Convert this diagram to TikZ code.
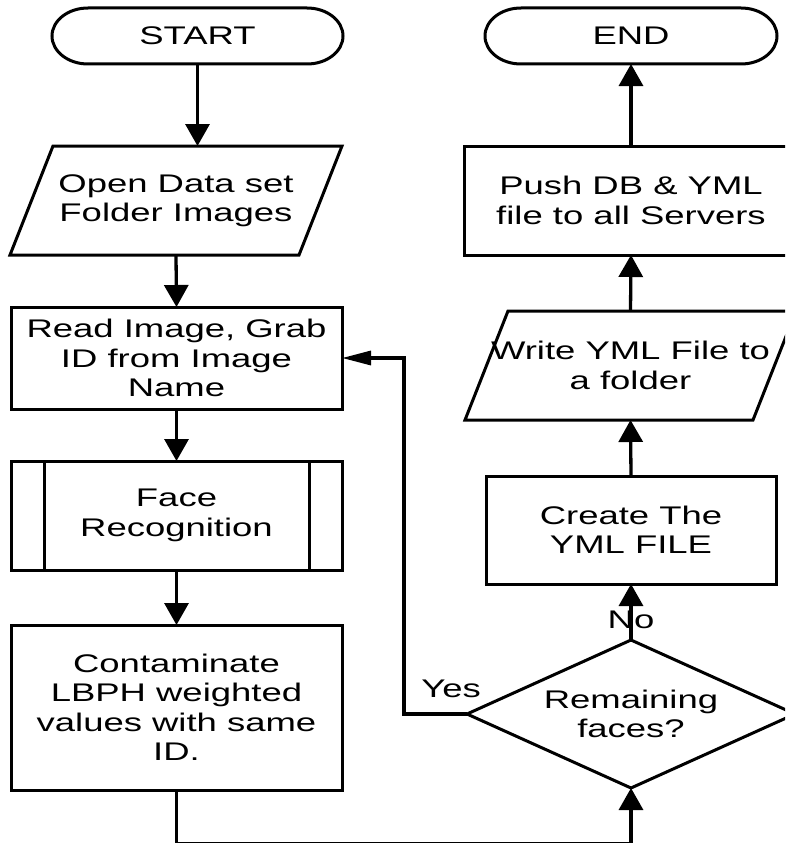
\documentclass[tikz,border=0pt]{standalone}
\usepackage{fontspec}
\setmainfont{Liberation Sans}[FakeStretch=1.43]
\usetikzlibrary{arrows.meta,calc}
\begin{document}
\begin{tikzpicture}[x=1pt,y=-1pt,
  every node/.style={inner sep=0pt,outer sep=0pt},
  txt/.style={align=center,font=\fontsize{25.5pt}{29.5pt}\selectfont},
  boxnode/.style={txt,draw,line width=3pt},
  plain/.style={txt},
  lbl/.style={font=\fontsize{25.5pt}{29.5pt}\selectfont},
  shp/.style={line width=3pt,line join=miter},
  arrv/.style={line width=3.3pt,-{Triangle[width=24pt,length=22pt]}},
  arrh/.style={line width=3.3pt,-{Triangle[width=14pt,length=29pt]}},
  conn/.style={line width=3.3pt}]
\useasboundingbox (0,0) rectangle (785,843);
\clip (0,0) rectangle (785,843);

% terminals
\node[plain,minimum width=291pt,minimum height=56pt] (start) at (197.5,36) {START};
\draw[shp] ([xshift=36pt]start.north west) -- ([xshift=-36pt]start.north east)
  arc[start angle=90,end angle=-90,x radius=36pt,y radius=28pt]
  -- ([xshift=36pt]start.south west)
  arc[start angle=270,end angle=90,x radius=36pt,y radius=28pt] -- cycle;

\node[plain,minimum width=292pt,minimum height=56pt] (end) at (631,36) {END};
\draw[shp] ([xshift=36pt]end.north west) -- ([xshift=-36pt]end.north east)
  arc[start angle=90,end angle=-90,x radius=36pt,y radius=28pt]
  -- ([xshift=36pt]end.south west)
  arc[start angle=270,end angle=90,x radius=36pt,y radius=28pt] -- cycle;

% left column
\node[plain,minimum width=289pt,minimum height=109pt] (open) at (176,200.5) {Open Data set\\Folder Images};
\draw[shp] ([xshift=21.5pt]open.north west) -- ([xshift=21.5pt]open.north east)
  -- ([xshift=-21.5pt]open.south east) -- ([xshift=-21.5pt]open.south west) -- cycle;

\node[boxnode,minimum width=331pt,minimum height=102pt] (read) at (176.5,358) {Read Image, Grab\\ID from Image\\Name};

\node[boxnode,minimum width=331pt,minimum height=109pt] (face) at (176.5,515.5) {Face\\Recognition};
\draw[shp] ([xshift=33pt]face.north west) -- ([xshift=33pt]face.south west);
\draw[shp] ([xshift=-33pt]face.north east) -- ([xshift=-33pt]face.south east);

\node[boxnode,minimum width=331pt,minimum height=165pt] (cont) at (176.5,707.5) {Contaminate\\LBPH weighted\\values with same\\ID.};

% right column
\node[plain,minimum width=328pt,minimum height=148pt] (dec) at (631,714) {Remaining\\faces?};
\draw[shp] (dec.west) -- (dec.north) -- (dec.east) -- (dec.south) -- cycle;

\node[boxnode,minimum width=290pt,minimum height=108pt] (create) at (631,530) {Create The\\YML FILE};

\node[plain,minimum width=288pt,minimum height=109pt] (write) at (630.5,365.5) {Write YML File to\\a folder};
\draw[shp] ([xshift=21.5pt]write.north west) -- ([xshift=21.5pt]write.north east)
  -- ([xshift=-21.5pt]write.south east) -- ([xshift=-21.5pt]write.south west) -- cycle;

\node[boxnode,minimum width=334pt,minimum height=109pt] (push) at (631,200.5) {Push DB \& YML\\file to all Servers};

% connectors
\coordinate (bot) at (0,843.3);
\coordinate (loopx) at (404,0);
\draw[arrv] (start.south) -- (start.south |- open.north);
\draw[arrv] (open.south) -- (read.north);
\draw[arrv] (read.south) -- (face.north);
\draw[arrv] (face.south) -- (cont.north);
\draw[arrv] (cont.south) -- (cont.south |- bot) -- (dec.south |- bot) -- (dec.south);
\draw[arrh] (dec.west) -- (dec.west -| loopx) -- (read.east -| loopx) -- (read.east);
\draw[arrv] (dec.north) -- (create.south);
\draw[arrv] (create.north) -- (write.south);
\draw[arrv] (write.north) -- (push.south);
\draw[arrv] (push.north) -- (end.south);

% labels
\node[lbl] (yes) at (451,689) {Yes};
\node[lbl] (no) at (631,620) {No};
\end{tikzpicture}
\end{document}
